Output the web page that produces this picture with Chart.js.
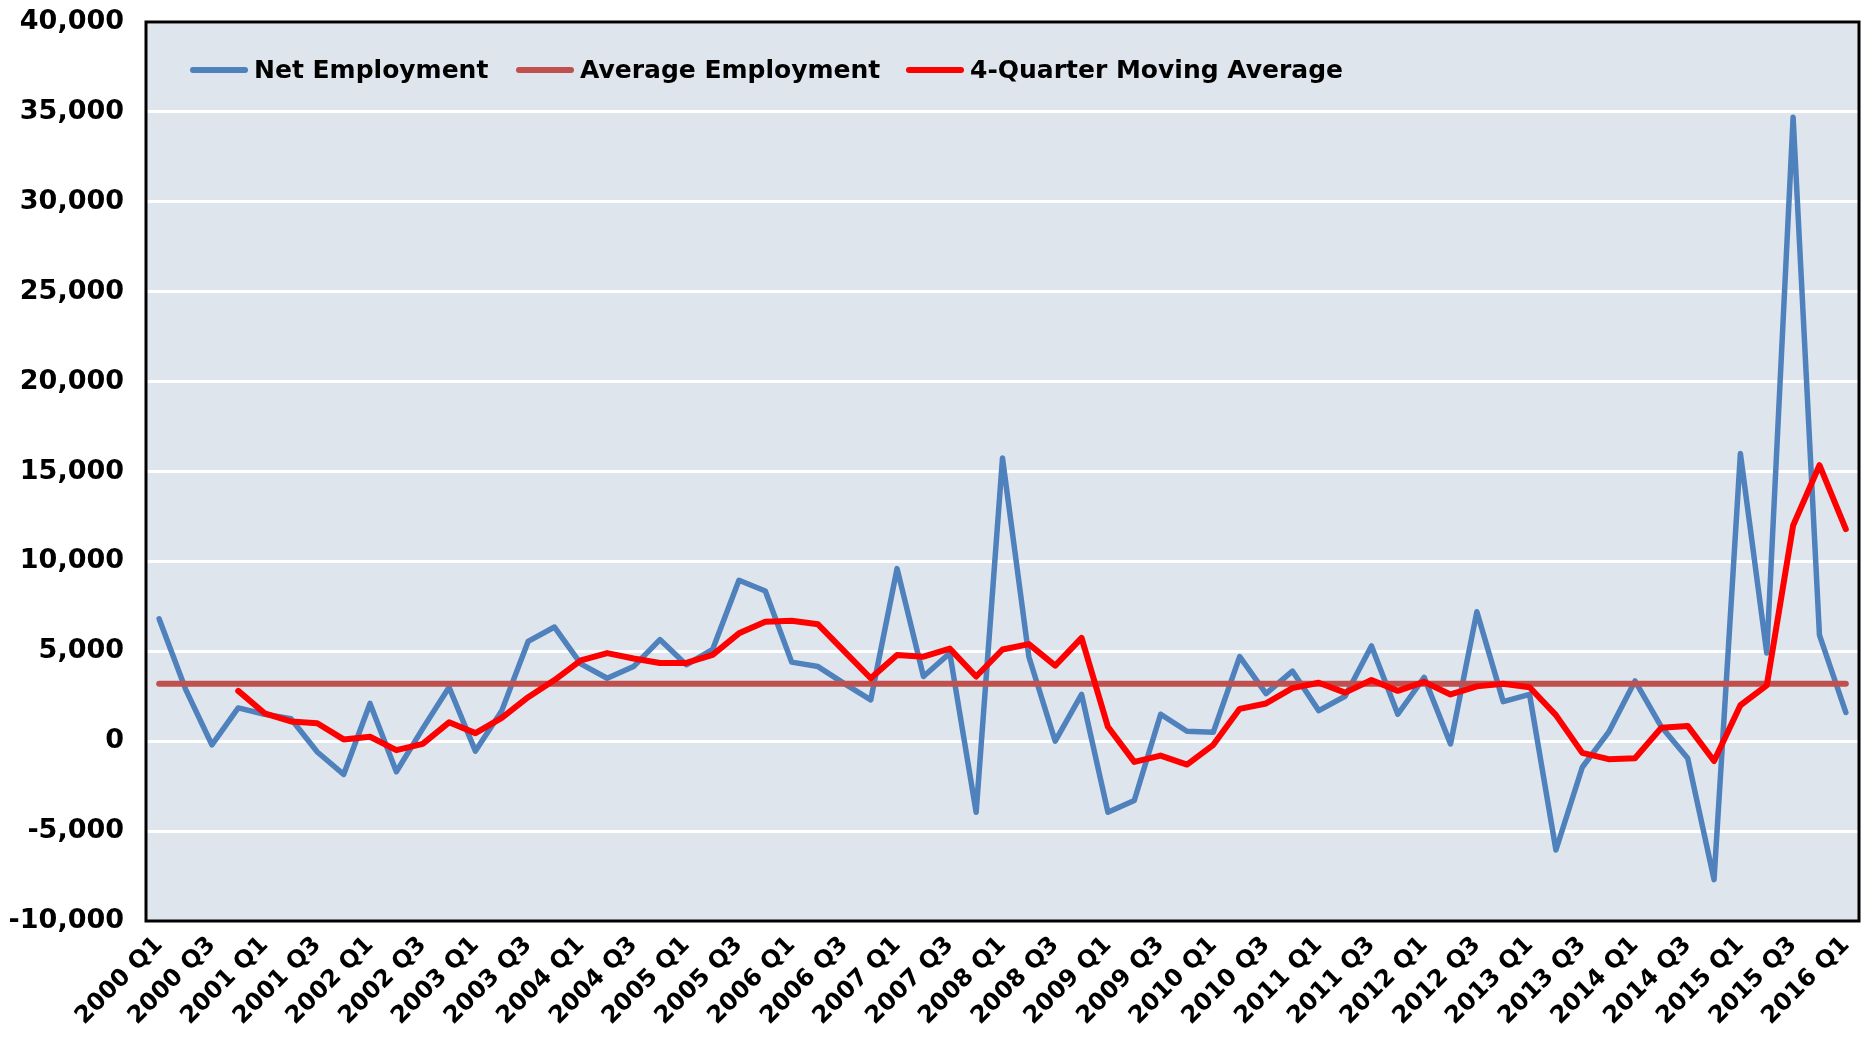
<!DOCTYPE html>
<html>
<head>
<meta charset="utf-8">
<title>Net Employment</title>
<script src="https://cdn.jsdelivr.net/npm/chart.js@4.4.1/dist/chart.umd.min.js"></script>
<style>
    body { margin: 0; background: #fff; }
    #wrap { position: relative; width: 1861px; height: 1044px; }
    .item {
        position: absolute;
        top: 55px;
        display: flex;
        align-items: center;
        font-family: "DejaVu Sans", sans-serif;
        font-weight: bold;
        font-size: 25px;
        color: #000;
        white-space: nowrap;
    }
    .swatch { width: 58px; height: 6px; border-radius: 3px; margin-right: 6px; }
</style>
</head>
<body>
<div id="wrap">
    <canvas id="chart" width="1861" height="1044"></canvas>
    <div class="item" style="left:190px"><span class="swatch" style="background:#4F81BD"></span>Net Employment</div>
    <div class="item" style="left:516px"><span class="swatch" style="background:#C0504D"></span>Average Employment</div>
    <div class="item" style="left:906px"><span class="swatch" style="background:#FF0000"></span>4-Quarter Moving Average</div>
</div>
<script>
(function() {
    'use strict';

    // quarters 2000 Q1 .. 2016 Q1
    var years = ['2000', '2001', '2002', '2003', '2004', '2005', '2006', '2007',
                 '2008', '2009', '2010', '2011', '2012', '2013', '2014', '2015', '2016'];
    var quarters = [];
    years.forEach(function(y) {
        ['Q1', 'Q2', 'Q3', 'Q4'].forEach(function(q) {
            if (quarters.length < 65) quarters.push(y + ' ' + q);
        });
    });

    var netEmployment = [
        6800, 2900, -200, 1850, 1500, 1250, -600, -1850, 2100, -1700,
        700, 3000, -550, 1700, 5550, 6350, 4300, 3500, 4150, 5650,
        4250, 5100, 8950, 8350, 4400, 4150, 3200, 2300, 9600, 3600,
        4900, -3950, 15750, 4700, 0, 2600, -3950, -3300, 1500, 550,
        500, 4700, 2650, 3900, 1700, 2500, 5300, 1500, 3550, -150,
        7200, 2200, 2600, -6050, -1450, 500, 3350, 800, -950, -7700,
        16000, 4900, 34700, 5900, 1600
    ];

    var movingAverage = [
        null, null, null, 2800, 1550, 1100, 1000, 100, 250, -500,
        -150, 1050, 450, 1300, 2450, 3400, 4500, 4900, 4600, 4350,
        4350, 4800, 6000, 6650, 6700, 6500, 5000, 3500, 4800, 4700,
        5150, 3600, 5100, 5400, 4200, 5750, 800, -1150, -800, -1300,
        -200, 1800, 2100, 2950, 3250, 2700, 3400, 2800, 3300, 2600,
        3050, 3200, 3000, 1450, -650, -1000, -950, 750, 850, -1100,
        2000, 3100, 12000, 15350, 11800
    ];

    var averageEmployment = 3200;

    var yTicks = [-10000, 40000, 5000]; // min, max, step

    var plotFrame = {
        id: 'plotFrame',
        beforeDraw: function(chart) {
            var a = chart.chartArea, c = chart.ctx;
            c.save();
            c.fillStyle = '#DFE5EC';
            c.fillRect(a.left, a.top, a.right - a.left, a.bottom - a.top);
            c.restore();
        },
        afterDraw: function(chart) {
            var a = chart.chartArea, c = chart.ctx;
            c.save();
            c.strokeStyle = '#000';
            c.lineWidth = 3;
            c.strokeRect(a.left, a.top, a.right - a.left, a.bottom - a.top);
            c.restore();
        }
    };

    function line(label, data, color, width, order) {
        return {
            label: label,
            data: data,
            borderColor: color,
            backgroundColor: color,
            borderWidth: width,
            pointRadius: 0,
            tension: 0,
            borderCapStyle: 'round',
            borderJoinStyle: 'round',
            order: order
        };
    }

    var font = { family: '"DejaVu Sans", sans-serif', weight: 'bold' };

    new Chart(document.getElementById('chart'), {
        type: 'line',
        data: {
            labels: quarters,
            datasets: [
                line('Net Employment', netEmployment, '#4F81BD', 5.5, 3),
                line('Average Employment', quarters.map(function() { return averageEmployment; }), '#C0504D', 6, 2),
                line('4-Quarter Moving Average', movingAverage, '#FF0000', 6, 1)
            ]
        },
        options: {
            responsive: false,
            animation: false,
            layout: { padding: { top: 22, right: 2, left: 0, bottom: 0 } },
            plugins: {
                legend: { display: false },
                tooltip: { enabled: false }
            },
            scales: {
                x: {
                    offset: true,
                    grid: { display: false, drawTicks: false },
                    border: { display: false },
                    ticks: {
                        autoSkip: false,
                        minRotation: 45,
                        maxRotation: 45,
                        padding: 10,
                        color: '#000',
                        font: Object.assign({ size: 24 }, font),
                        callback: function(v, i) { return i % 2 === 0 ? quarters[i] : ''; }
                    },
                    afterFit: function(s) {
                        s.height = 123;
                        s.paddingLeft = 0;
                        s.paddingRight = 0;
                    }
                },
                y: {
                    min: yTicks[0],
                    max: yTicks[1],
                    grid: { color: '#FFFFFF', lineWidth: 3, drawTicks: false },
                    border: { display: false },
                    ticks: {
                        stepSize: yTicks[2],
                        padding: 22,
                        color: '#000',
                        font: Object.assign({ size: 27 }, font),
                        callback: function(v) { return v.toLocaleString('en-US'); }
                    },
                    afterFit: function(s) {
                        s.width = 146;
                        s.paddingTop = 0;
                        s.paddingBottom = 0;
                    }
                }
            }
        },
        plugins: [plotFrame]
    });
})();
</script>
</body>
</html>
